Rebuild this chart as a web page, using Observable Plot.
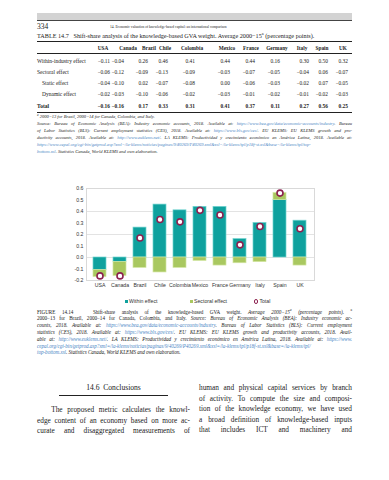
<!DOCTYPE html>
<html><head><meta charset="utf-8">
<script src="https://cdn.jsdelivr.net/npm/d3@7"></script>
<script src="https://cdn.jsdelivr.net/npm/@observablehq/plot@0.6"></script>
<style>
body{margin:0;background:#fff;}
#page{position:relative;width:389px;height:480px;overflow:hidden;font-family:"Liberation Serif","DejaVu Serif",serif;color:#222;}
.abs{position:absolute;white-space:nowrap;}
.jl{position:absolute;text-align:justify;text-align-last:justify;white-space:normal;overflow:visible;}
.last{text-align-last:left;}
.lk{color:#4a86c5;}
i{font-style:italic;}
sup{font-size:70%;line-height:0;vertical-align:super;}
</style></head><body><div id="page"></div>
<script>
const countries = ["USA","Canada","Brazil","Chile","Colombia","Mexico","France","Germany","Italy","Spain","UK"];
const withinEffect = [-0.11,-0.04,0.26,0.46,0.41,0.44,0.44,0.16,0.30,0.50,0.32];
const sectoralEffect = [-0.06,-0.12,-0.09,-0.13,-0.09,-0.03,-0.07,-0.05,-0.04,0.06,-0.07];
const staticEffect = [-0.04,-0.10,0.02,-0.07,-0.08,0.00,-0.06,-0.03,-0.02,0.07,-0.05];
const dynamicEffect = [-0.02,-0.03,-0.10,-0.06,-0.02,-0.03,-0.01,-0.02,-0.01,-0.02,-0.03];
const totalEffect = [-0.16,-0.16,0.17,0.33,0.31,0.41,0.37,0.11,0.27,0.56,0.25];
const seriesNames = ["Within effect","Sectoral effect","Total"];
const yTicks = [-0.2,-0.1,0,0.1,0.2,0.3,0.4,0.5,0.6];
const gridValues = [-0.2,0,0.2,0.4,0.6];
const rowLabels = ["Within-industry effect","Sectoral effect","Static effect","Dynamic effect","Total"];

const page = document.getElementById("page");
function add(html, style, cls="abs"){
  const d = document.createElement("div");
  d.className = cls; d.innerHTML = html; d.setAttribute("style", style); page.appendChild(d); return d;
}
function box(style){ const d=document.createElement("div"); d.setAttribute("style","position:absolute;"+style); page.appendChild(d); return d;}

// Header band
box("left:37px;top:13px;width:315px;height:7px;background:#d3d3d3;");
box("left:37px;top:20px;width:315px;height:1px;background:#444;");
add("334","left:37px;top:22px;font-size:7.5px;line-height:10px;");
add("14. Economic valuation of knowledge-based capital: an international comparison","left:110px;top:25px;font-size:3.6px;line-height:5px;");
add("TABLE 14.7&nbsp;&nbsp;&nbsp;Shift-share analysis of the knowledge-based GVA weight. Average 2000−15<sup>a</sup> (percentage points).","left:37px;top:32px;font-size:6.2px;line-height:8px;");

// Table
box("left:37px;top:41px;width:315px;height:1px;background:#222;");
box("left:37px;top:53px;width:315px;height:0.7px;background:#222;");
box("left:37px;top:112px;width:315px;height:1px;background:#222;");
const headCenters = [103,128,149,165,192,227,251,277,302,322,343];
const valRights = [110,124,148,168,195,230,255,280,309,328,348];
countries.forEach((c,i)=>{
  add(c,`left:${headCenters[i]-20}px;width:40px;text-align:center;top:44.5px;font-size:5.3px;line-height:7px;font-weight:bold;`);
});
const rows = [withinEffect, sectoralEffect, staticEffect, dynamicEffect, totalEffect];
const rowY = [61,72,83,94,106];
const fmt = v => (v<0?"−":"")+Math.abs(v).toFixed(2);
rows.forEach((r,j)=>{
  const bold = j===4 ? "font-weight:bold;" : "";
  const indent = (j===2||j===3) ? 5 : 0;
  add(rowLabels[j],`left:${37+indent}px;top:${rowY[j]-3.5}px;font-size:5.5px;line-height:7px;${bold}`);
  r.forEach((v,i)=>{
    add(fmt(v),`left:${valRights[i]-30}px;width:30px;text-align:right;top:${rowY[j]-3.5}px;font-size:5.4px;line-height:7px;${bold}`);
  });
});

// Table footnotes
const foot = [
 "<sup>a</sup> 2000−13 for Brazil, 2000−14 for Canada, Colombia, and Italy.",
 "Source: Bureau of Economic Analysis (BEA): Industry economic accounts, 2018. Available at: <span class='lk'>https://www.bea.gov/data/economic-accounts/industry</span>. Bureau",
 "of Labor Statistics (BLS): Current employment statistics (CES), 2018. Available at: <span class='lk'>https://www.bls.gov/ces/</span>. EU KLEMS: EU KLEMS growth and pro-",
 "ductivity accounts, 2018. Available at: <span class='lk'>http://www.euklems.net/</span>. LA KLEMS: Productividad y crecimiento económico en América Latina, 2018. Available at:",
 "<span class='lk'>https://www.cepal.org/cgi-bin/getprod.asp?xml=/la-klems/noticias/paginas/9/40269/P40269.xml&amp;xsl=/la-klems/tpl/p18f-st.xsl&amp;base=/la-klems/tpl/top-</span>",
 "<span class='lk'>bottom.xsl</span>. Statistics Canada, World KLEMS and own elaboration."
];
foot.forEach((t,k)=>{
  const last = (k===0||k===foot.length-1) ? " last" : "";
  add(t,`left:37px;width:315px;top:${114+k*7}px;font-size:4.5px;line-height:6px;font-style:italic;`,"jl"+last);
});

// Chart
const stackData = [];
countries.forEach((c,i)=>stackData.push({country:c, series:seriesNames[0], value:withinEffect[i]}));
countries.forEach((c,i)=>stackData.push({country:c, series:seriesNames[1], value:sectoralEffect[i]}));
const totals = countries.map((c,i)=>({country:c, total:totalEffect[i]}));
const fillMap = {"Within effect":"#0fa19e","Sectoral effect":"#a9c860"};
const strokeMap = {"Within effect":"#6fd3cf","Sectoral effect":"#d2e5a0"};

const chart = Plot.plot({
  width: 389, height: 116,
  marginLeft: 86, marginRight: 75, marginTop: 12, marginBottom: 12,
  style: {fontFamily: "'Liberation Sans', Arial, sans-serif", fontSize: "5.2px", color: "#333", background: "white", overflow: "visible"},
  x: {domain: countries, paddingInner: 0.33, paddingOuter: 0.165, label: null, tickSize: 0, tickPadding: 3},
  y: {domain: [-0.2, 0.6], ticks: yTicks, tickFormat: d => d.toFixed(1), label: null, tickSize: 0, tickPadding: 3},
  marks: [
    Plot.ruleY(gridValues, {stroke: "#dcdcdc", strokeWidth: 0.8}),
    Plot.frame({stroke: "#d9d9d9", strokeWidth: 1}),
    Plot.barY(stackData, Plot.stackY({x: "country", y: "value", fill: d => fillMap[d.series], stroke: d => strokeMap[d.series], strokeWidth: 0.7})),
    Plot.dot(totals, {x: "country", y: "total", r: 3, fill: "white", stroke: "#8c2150", strokeWidth: 1.6})
  ]
});
const holder = box("left:0px;top:176px;");
holder.appendChild(chart);

// Legend
const legendItems = [
  {name: seriesNames[0], x: 125, sym: `<span style="display:inline-block;width:3px;height:3px;background:${fillMap["Within effect"]};margin-right:1px;vertical-align:middle;"></span>`},
  {name: seriesNames[1], x: 190, sym: `<span style="display:inline-block;width:3px;height:3px;background:${fillMap["Sectoral effect"]};margin-right:1px;vertical-align:middle;"></span>`},
  {name: seriesNames[2], x: 254, sym: `<span style="display:inline-block;width:2.4px;height:2.4px;border-radius:50%;border:0.7px solid #8c2150;background:#fff;margin-right:1px;vertical-align:middle;"></span>`}
];
legendItems.forEach(it=>{
  add(it.sym+it.name,`left:${it.x}px;top:298px;font-family:'Liberation Sans',Arial,sans-serif;font-size:5.2px;line-height:6px;color:#333;`);
});

// Figure caption
const cap = [
 "FIGURE 14.14&nbsp;&nbsp; Shift-share analysis of the knowledge-based GVA weight. <i>Average 2000−15<sup>a</sup> (percentage points).</i> <sup>a</sup>",
 "2000−13 for Brazil, 2000−14 for Canada, Colombia, and Italy. <i>Source: Bureau of Economic Analysis (BEA): Industry economic ac-</i>",
 "<i>counts, 2018. Available at: <span class='lk'>https://www.bea.gov/data/economic-accounts/industry</span>. Bureau of Labor Statistics (BLS): Current employment</i>",
 "<i>statistics (CES), 2018. Available at: <span class='lk'>https://www.bls.gov/ces/</span>. EU KLEMS: EU KLEMS growth and productivity accounts, 2018. Avail-</i>",
 "<i>able at: <span class='lk'>http://www.euklems.net/</span>. LA KLEMS: Productividad y crecimiento económico en América Latina, 2018. Available at: <span class='lk'>https://www.</span></i>",
 "<i><span class='lk'>cepal.org/cgi-bin/getprod.asp?xml=/la-klems/noticias/paginas/9/40269/P40269.xml&amp;xsl=/la-klems/tpl/p18f-st.xsl&amp;base=/la-klems/tpl/</span></i>",
 "<i><span class='lk'>top-bottom.xsl</span>. Statistics Canada, World KLEMS and own elaboration.</i>"
];
cap.forEach((t,k)=>{
  const last = k===cap.length-1 ? " last" : "";
  add(t,`left:37px;width:315px;top:${308.5+k*6.8}px;font-size:5.15px;letter-spacing:-0.04px;line-height:7px;`,"jl"+last);
});

// Section
add("14.6&nbsp; Conclusions","left:59px;width:109px;text-align:center;top:383px;font-size:7.6px;line-height:10px;");
box("left:59px;top:395px;width:109px;height:0.8px;background:#222;");
const leftCol = [
 "&nbsp;&nbsp;&nbsp;The proposed metric calculates the knowl-",
 "edge content of an economy based on more ac-",
 "curate and disaggregated measurements of"
];
const rightCol = [
 "human and physical capital services by branch",
 "of activity. To compute the size and composi-",
 "tion of the knowledge economy, we have used",
 "a broad definition of knowledge-based inputs",
 "that includes ICT and machinery and"
];
leftCol.forEach((t,k)=>add(t,`left:37px;width:153px;top:${405+k*10.5}px;font-size:7.3px;line-height:10px;`,"jl"));
rightCol.forEach((t,k)=>add(t,`left:199px;width:153px;top:${383+k*10.5}px;font-size:7.3px;line-height:10px;`,"jl"));
</script></body></html>
